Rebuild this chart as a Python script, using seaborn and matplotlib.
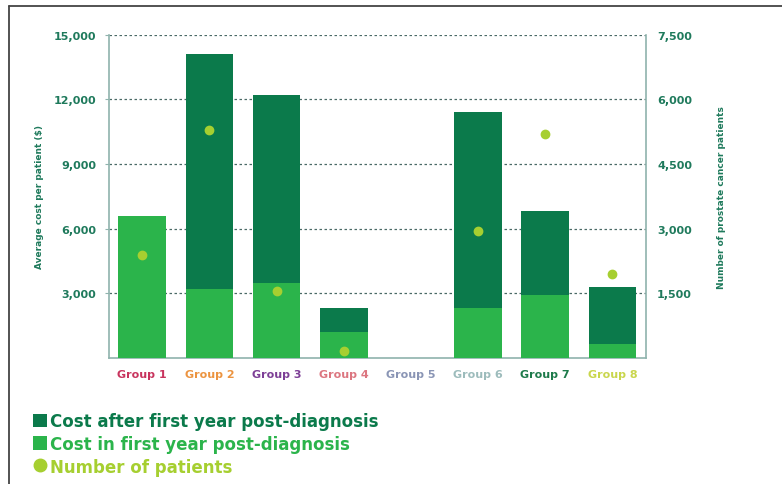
import numpy as np
import pandas as pd
import matplotlib.pyplot as plt
import seaborn as sns
from matplotlib.lines import Line2D
from matplotlib.patches import Patch

groups = ['Group 1', 'Group 2', 'Group 3', 'Group 4', 'Group 5', 'Group 6', 'Group 7', 'Group 8']
cost_first_year = [6600, 3200, 3500, 1200, 0, 2300, 2900, 650]
cost_after_first_year = [0, 10900, 8700, 1100, 0, 9100, 3900, 2650]
patients = [2400, 5300, 1550, 150, np.nan, 2950, 5200, 1950]
group_colors = ['#c8345e', '#ec9440', '#7d3f96', '#dc7680', '#8a95b5',
                '#9dbcbc', '#1d7a4a', '#c9d64c']

dark_green = '#0b7a4b'
light_green = '#2bb44b'
point_green = '#a6cf30'
axis_text = '#1f7a5c'
spine_col = '#8fb3ad'

df = pd.DataFrame({'group': groups,
                   'first': cost_first_year,
                   'after': cost_after_first_year,
                   'patients': patients})
df['total'] = df['first'] + df['after']

sns.set_style('white')
plt.rcParams['font.family'] = ['DejaVu Sans']

fig = plt.figure(figsize=(7.82, 4.85), dpi=100)
ax = fig.add_axes([0.139, 0.260, 0.687, 0.666])

# stacked bars: total (dark) then first-year (light) on top
sns.barplot(data=df, x='group', y='total', color=dark_green, width=0.71,
            saturation=1, linewidth=0, ax=ax, zorder=2)
sns.barplot(data=df, x='group', y='first', color=light_green, width=0.71,
            saturation=1, linewidth=0, ax=ax, zorder=3)

ax.set_xlim(-0.5, 7.5)
ax.set_ylim(0, 15000)
ax.set_yticks([3000, 6000, 9000, 12000, 15000])
ax.set_yticklabels([f'{v:,}' for v in [3000, 6000, 9000, 12000, 15000]],
                   fontsize=8, fontweight='bold', color=axis_text)
ax.yaxis.grid(True, linestyle=(0, (2, 2)), color='#4a6a66', linewidth=0.9)
ax.set_axisbelow(True)
ax.set_xlabel('')
ax.set_ylabel('Average cost per patient ($)', fontsize=6.5, fontweight='bold',
              color=axis_text, labelpad=7)
ax.tick_params(axis='y', length=3, color=spine_col, pad=6)
ax.tick_params(axis='x', length=0, pad=8)
for lab, c in zip(ax.get_xticklabels(), group_colors):
    lab.set_color(c)
    lab.set_fontsize(8)
    lab.set_fontweight('bold')

for side in ['left', 'right', 'bottom']:
    ax.spines[side].set_color(spine_col)
    ax.spines[side].set_linewidth(1.2)
ax.spines['top'].set_visible(False)

ax2 = ax.twinx()
sns.pointplot(data=df, x='group', y='patients', color=point_green,
              linestyle='none', errorbar=None, markersize=5, ax=ax2)
ax2.set_xlim(-0.5, 7.5)
ax2.set_ylim(0, 7500)
ax2.set_yticks([1500, 3000, 4500, 6000, 7500])
ax2.set_yticklabels([f'{v:,}' for v in [1500, 3000, 4500, 6000, 7500]],
                    fontsize=8, fontweight='bold', color=axis_text)
ax2.set_ylabel('Number of prostate cancer patients', fontsize=6.5,
               fontweight='bold', color=axis_text, rotation=90, labelpad=18)
ax2.tick_params(axis='y', length=0, pad=8)
for side in ['left', 'right', 'bottom', 'top']:
    ax2.spines[side].set_visible(False)

handles = [Patch(facecolor=dark_green, edgecolor='none'),
           Patch(facecolor=light_green, edgecolor='none'),
           Line2D([], [], marker='o', linestyle='none', color=point_green, markersize=9)]
labels = ['Cost after first year post-diagnosis', 'Cost in first year post-diagnosis',
          'Number of patients']
fig.legend(handles, labels, loc='upper left', bbox_to_anchor=(0.042, 0.148),
           frameon=False, labelcolor=[dark_green, light_green, point_green],
           prop={'size': 12, 'weight': 'bold'}, handlelength=0.85, handleheight=0.85,
           handletextpad=0.15, labelspacing=0.28, borderaxespad=0, borderpad=0)

# outer frame (top and left edges only)
fig.add_artist(Line2D([0.0115, 0.0115], [0, 0.986], color='#444444', linewidth=1.3))
fig.add_artist(Line2D([0.0115, 1.0], [0.986, 0.986], color='#444444', linewidth=1.3))

plt.savefig('out.png', dpi=100)
